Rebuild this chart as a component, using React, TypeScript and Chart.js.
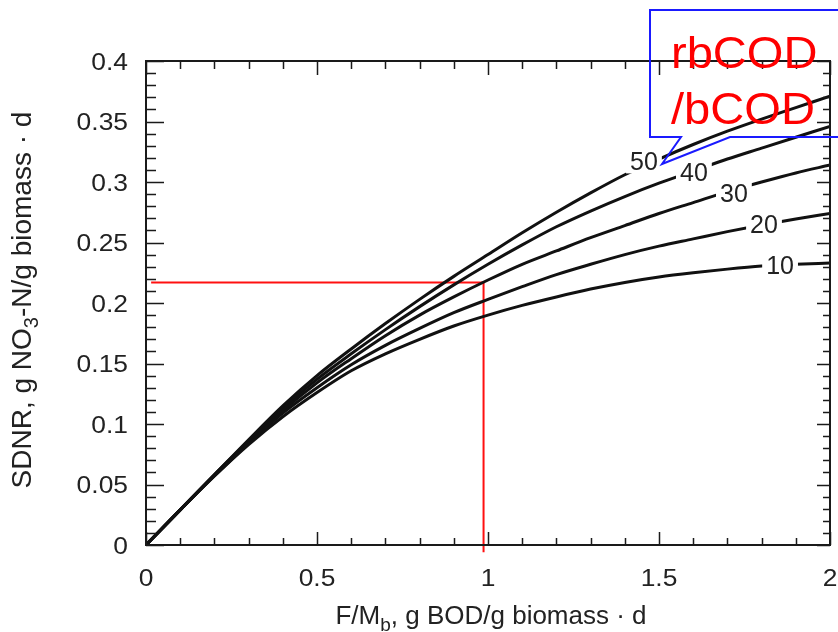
import React, { useEffect, useRef } from "react";
import { Chart, registerables } from "chart.js";

Chart.register(...registerables);

// ---------- data ----------
const fmValues = [0, 0.1, 0.2, 0.3, 0.4, 0.5, 0.6, 0.7, 0.8, 0.9, 1.0, 1.1, 1.2, 1.3, 1.4, 1.5, 1.6, 1.7, 1.8, 1.9, 2.0];

const sdnr50 = [0, 0.029, 0.058, 0.087, 0.115, 0.14, 0.162, 0.183, 0.203, 0.222, 0.24, 0.258, 0.275, 0.291, 0.306, 0.319, 0.331, 0.342, 0.352, 0.3615, 0.371];
const sdnr40 = [0, 0.029, 0.058, 0.086, 0.113, 0.137, 0.158, 0.178, 0.197, 0.215, 0.232, 0.248, 0.263, 0.276, 0.288, 0.299, 0.309, 0.319, 0.328, 0.337, 0.346];
const sdnr30 = [0, 0.029, 0.058, 0.085, 0.111, 0.134, 0.154, 0.173, 0.19, 0.205, 0.219, 0.232, 0.243, 0.254, 0.264, 0.274, 0.283, 0.292, 0.3, 0.3075, 0.314];
const sdnr20 = [0, 0.029, 0.057, 0.084, 0.109, 0.13, 0.149, 0.165, 0.179, 0.192, 0.203, 0.2135, 0.2235, 0.232, 0.24, 0.247, 0.253, 0.259, 0.2645, 0.2695, 0.274];
const sdnr10 = [0, 0.029, 0.057, 0.083, 0.106, 0.126, 0.144, 0.158, 0.17, 0.181, 0.19, 0.198, 0.205, 0.2115, 0.217, 0.2215, 0.225, 0.228, 0.2305, 0.232, 0.233];

const curveNames = ["10", "20", "30", "40", "50"];
const curveSeries = [sdnr10, sdnr20, sdnr30, sdnr40, sdnr50];
// where each curve's label sits (data coordinates)
const curveLabelX = [1.854, 1.807, 1.719, 1.602, 1.456];
const curveLabelY = [0.2316, 0.2656, 0.291, 0.3086, 0.317];

// red read-off guide
const guideX = [0.015, 0.987, 0.987];
const guideY = [0.217, 0.217, -0.006];

const xTickValues = [0, 0.5, 1, 1.5, 2];
const xTickLabels = ["0", "0.5", "1", "1.5", "2"];
const yTickValues = [0, 0.05, 0.1, 0.15, 0.2, 0.25, 0.3, 0.35, 0.4];
const yTickLabels = ["0", "0.05", "0.1", "0.15", "0.2", "0.25", "0.3", "0.35", "0.4"];

const calloutLines = ["rbCOD", "/bCOD"];

const FONT = '"Liberation Sans", Arial, Helvetica, sans-serif';

type Piece = { t: string; sub?: boolean };

function drawPieces(ctx: CanvasRenderingContext2D, pieces: Piece[], cx: number, baseY: number, size: number) {
  const subSize = Math.round(size * 0.72);
  let total = 0;
  const widths = pieces.map((p) => {
    ctx.font = `${p.sub ? subSize : size}px ${FONT}`;
    const w = ctx.measureText(p.t).width;
    total += w;
    return w;
  });
  let cur = cx - total / 2;
  ctx.textAlign = "left";
  ctx.textBaseline = "alphabetic";
  pieces.forEach((p, i) => {
    ctx.font = `${p.sub ? subSize : size}px ${FONT}`;
    ctx.fillText(p.t, cur, baseY + (p.sub ? size * 0.25 : 0));
    cur += widths[i];
  });
}

const decorPlugin = {
  id: "decor",
  afterDatasetsDraw(chart: any) {
    const { ctx, chartArea: a, scales } = chart;
    const xs = scales.x;
    const ys = scales.y;
    ctx.save();

    // curve labels with gaps in the lines
    ctx.font = `25px ${FONT}`;
    ctx.textAlign = "center";
    ctx.textBaseline = "alphabetic";
    curveNames.forEach((name, i) => {
      const px = xs.getPixelForValue(curveLabelX[i]);
      const py = ys.getPixelForValue(curveLabelY[i]);
      const w = ctx.measureText(name).width + 8;
      ctx.fillStyle = "#ffffff";
      ctx.fillRect(px - w / 2, py - 12, w, 24);
      ctx.fillStyle = "#222";
      ctx.fillText(name, px, py + 9);
    });

    // frame
    ctx.strokeStyle = "#1a1a1a";
    ctx.lineWidth = 2;
    ctx.strokeRect(a.left, a.top, a.right - a.left, a.bottom - a.top);

    // inward ticks
    ctx.lineWidth = 1.5;
    ctx.beginPath();
    for (let i = 0; i <= 20; i++) {
      const px = Math.round(xs.getPixelForValue(i / 10)) + 0.5;
      const major = i % 5 === 0;
      ctx.moveTo(px, a.bottom);
      ctx.lineTo(px, a.bottom - (major ? 13 : 7));
      ctx.moveTo(px, a.top);
      ctx.lineTo(px, a.top + (major ? 14 : 8));
    }
    for (let j = 0; j <= 40; j++) {
      const py = Math.round(ys.getPixelForValue(j / 100)) + 0.5;
      const major = j % 5 === 0;
      ctx.moveTo(a.left, py);
      ctx.lineTo(a.left + (major ? 18 : 10), py);
      ctx.moveTo(a.right, py);
      ctx.lineTo(a.right - (major ? 13 : 7), py);
    }
    ctx.stroke();

    // tick labels
    ctx.fillStyle = "#222";
    ctx.font = `24px ${FONT}`;
    xTickValues.forEach((v, i) => {
      const px = xs.getPixelForValue(v);
      ctx.save();
      ctx.translate(px, 586);
      ctx.scale(1.1, 1);
      ctx.textAlign = "center";
      ctx.fillText(xTickLabels[i], 0, 0);
      ctx.restore();
    });
    yTickValues.forEach((v, i) => {
      const py = ys.getPixelForValue(v);
      ctx.save();
      ctx.translate(128, py + 8.5);
      ctx.scale(1.1, 1);
      ctx.textAlign = "right";
      ctx.fillText(yTickLabels[i], 0, 0);
      ctx.restore();
    });

    // axis titles
    drawPieces(ctx, [{ t: "F/M" }, { t: "b", sub: true }, { t: ", g BOD/g biomass \u00b7 d" }], 491, 624, 26);
    ctx.save();
    ctx.translate(31, 300);
    ctx.rotate(-Math.PI / 2);
    drawPieces(ctx, [{ t: "SDNR, g NO" }, { t: "3", sub: true }, { t: "-N/g biomass \u00b7 d" }], 0, 0, 28);
    ctx.restore();

    // callout
    ctx.strokeStyle = "#1a1aff";
    ctx.lineWidth = 2;
    ctx.beginPath();
    ctx.moveTo(845, 10);
    ctx.lineTo(650, 10);
    ctx.lineTo(650, 137);
    ctx.lineTo(681, 137);
    ctx.lineTo(662, 164);
    ctx.lineTo(730, 137);
    ctx.lineTo(845, 137);
    ctx.stroke();
    ctx.fillStyle = "#ff0000";
    ctx.font = `44px ${FONT}`;
    ctx.textAlign = "left";
    [68, 124].forEach((by, i) => {
      ctx.save();
      ctx.translate(671, by);
      ctx.scale(1.07, 1);
      ctx.fillText(calloutLines[i], 0, 0);
      ctx.restore();
    });

    ctx.restore();
  },
};

export default function App() {
  const ref = useRef<HTMLCanvasElement | null>(null);

  useEffect(() => {
    if (!ref.current) return;
    const curves = curveSeries.map((s, i) => ({
      label: curveNames[i],
      data: fmValues.map((x, k) => ({ x, y: s[k] })),
      borderColor: "#111",
      borderWidth: 3,
      pointRadius: 0,
      fill: false,
      cubicInterpolationMode: "monotone" as const,
    }));
    const guide = {
      label: "guide",
      data: guideX.map((x, k) => ({ x, y: guideY[k] })),
      borderColor: "#ff1010",
      borderWidth: 2,
      pointRadius: 0,
      fill: false,
      tension: 0,
      clip: false as any,
    };
    const chart = new Chart(ref.current, {
      type: "line",
      data: { datasets: [...curves, guide] },
      options: {
        responsive: false,
        devicePixelRatio: 1,
        animation: false,
        events: [],
        layout: { padding: { left: 146, right: 8, top: 61, bottom: 87 } },
        plugins: { legend: { display: false }, tooltip: { enabled: false } },
        scales: {
          x: {
            type: "linear",
            min: 0,
            max: 2,
            grid: { display: false },
            border: { display: false },
            ticks: { display: false },
            afterFit: (s: any) => {
              s.height = 0;
            },
          },
          y: {
            type: "linear",
            min: 0,
            max: 0.4,
            grid: { display: false },
            border: { display: false },
            ticks: { display: false },
            afterFit: (s: any) => {
              s.width = 0;
            },
          },
        },
      },
      plugins: [decorPlugin],
    });
    return () => chart.destroy();
  }, []);

  return (
    <div style={{ position: "fixed", left: 0, top: 0, width: 838, height: 632, background: "#fff" }}>
      <canvas ref={ref} width={838} height={632} style={{ display: "block" }} />
    </div>
  );
}
